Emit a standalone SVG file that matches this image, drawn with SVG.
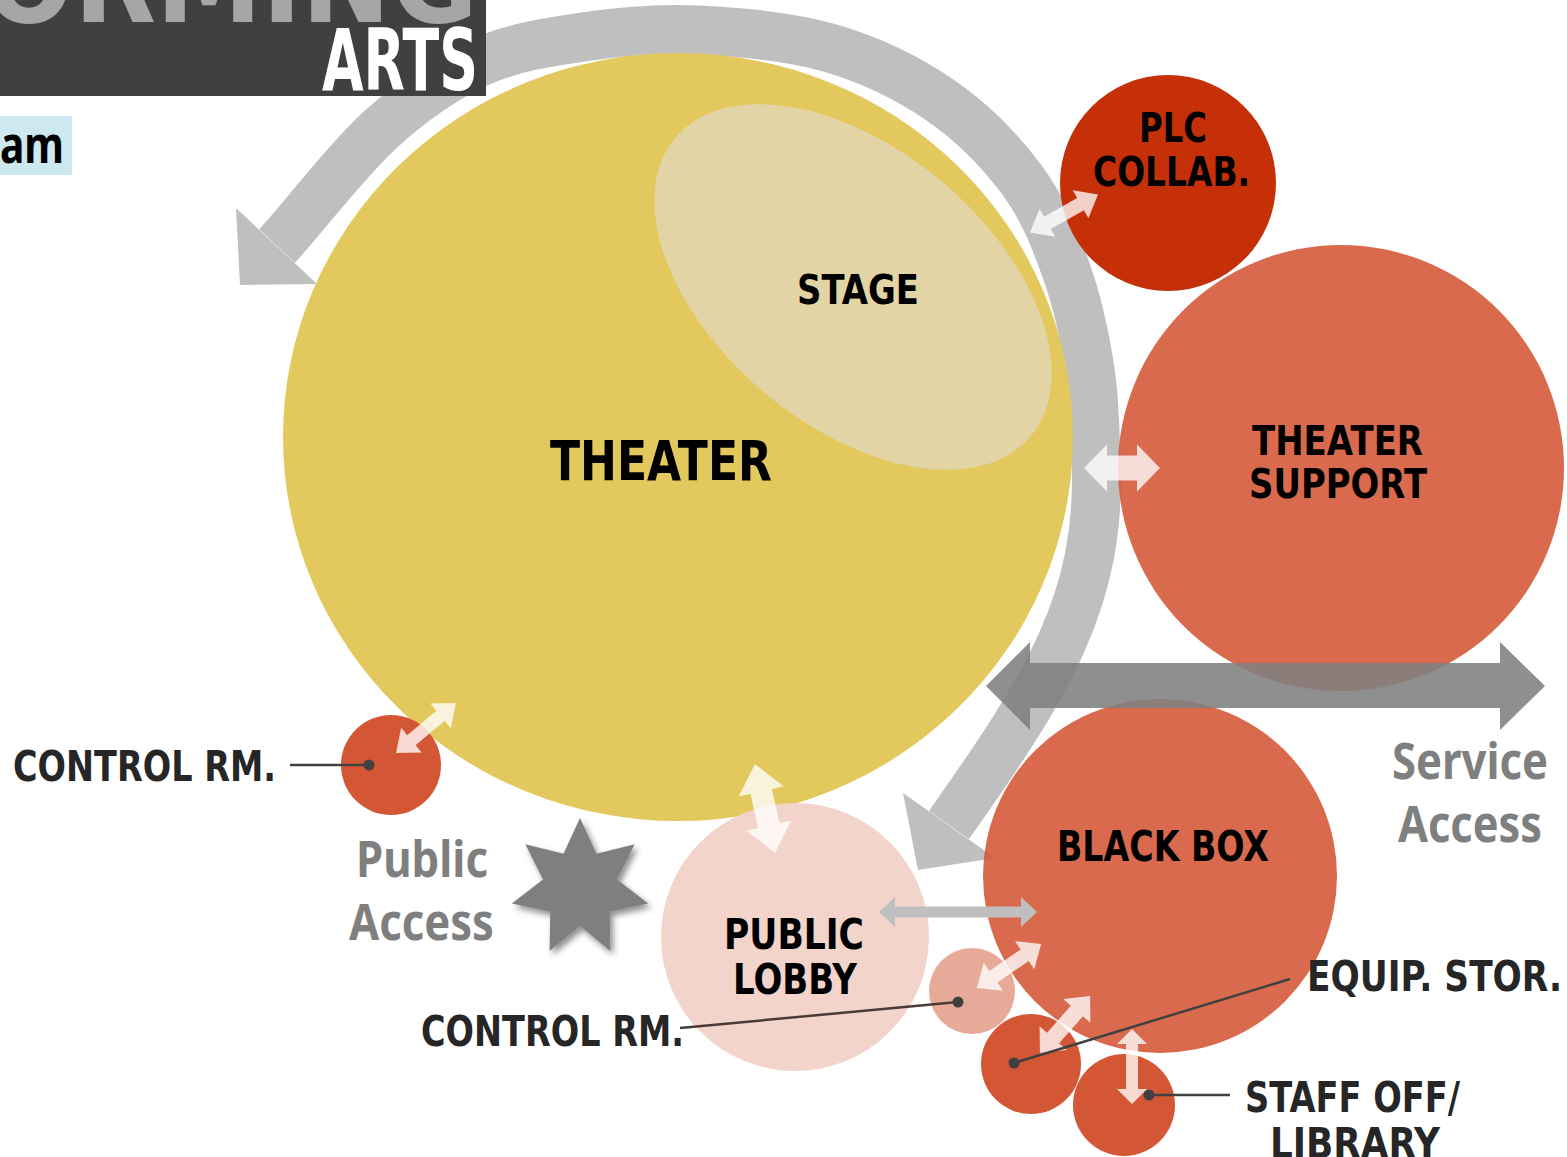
<svg xmlns="http://www.w3.org/2000/svg" width="1567" height="1157" viewBox="0 0 1567 1157">
<defs>
<style>
.lbl{font-family:"DejaVu Sans","Liberation Sans",sans-serif;font-weight:bold;fill:#000}
.cl{font-family:"DejaVu Sans","Liberation Sans",sans-serif;font-weight:bold;fill:#262626}
.ga{font-family:"Noto Sans","Open Sans",sans-serif;font-weight:bold;fill:#7f7f7f}
.wa{fill:#ffffff;fill-opacity:0.78}
.ln{stroke:#404040;stroke-width:2.5;fill:none}
.dot{fill:#404040}
.band{fill:none;stroke:#bfbfbf;stroke-width:49}
.orange{fill:#d4502e;fill-opacity:0.85}
.small{fill:#d45735}
</style>
<filter id="sh" x="-30%" y="-30%" width="160%" height="160%">
<feDropShadow dx="3" dy="4" stdDeviation="3" flood-color="#000" flood-opacity="0.45"/>
</filter>
</defs>

<g id="circulation-arc">
<path class="band" d="M 949 825 C 1047 686 1102 600 1096 460 C 1094.7 430 1095 401.7 1090 370 C 1085 336.7 1077.3 301.7 1066 270 C 1054.7 238.3 1043 208.3 1022 180 C 1001 151.7 972 122 940 100 C 908 78 870 59.7 830 48 C 790 36.3 740 32 700 30 C 660 28 626.7 30.7 590 36 C 553.3 41.3 515 46.3 480 62 C 445 77.7 413.8 99.3 380 130 C 346.2 160.7 300.3 221.2 277 246"/>
<polygon points="236,208 240,285 317,284" fill="#bfbfbf"/>
<polygon points="903,793 918,870 995,858" fill="#bfbfbf"/>
</g>

<g id="header">
<rect x="0" y="0" width="486" height="96" fill="#404040"/>
<text x="-322" y="22" font-family="DejaVu Sans, sans-serif" font-weight="bold" font-size="120" fill="#a6a6a6" textLength="800" lengthAdjust="spacingAndGlyphs">PERFORMING</text>
<text x="322" y="90" font-family="DejaVu Sans, sans-serif" font-weight="bold" font-size="85" fill="#ffffff" textLength="156" lengthAdjust="spacingAndGlyphs">ARTS</text>
</g>
<g id="subtitle">
<rect x="0" y="116" width="72" height="59" fill="#cde8ef"/>
<text x="0" y="163" font-family="Noto Sans, sans-serif" font-weight="bold" font-size="50" fill="#000" textLength="64" lengthAdjust="spacingAndGlyphs">am</text>
</g>

<g id="theater">
<ellipse cx="678" cy="437" rx="395" ry="384" fill="#e3c95d"/>
</g>
<g id="stage">
<ellipse cx="853" cy="287" rx="232" ry="138" transform="rotate(40 853 287)" fill="#e3d4a6"/>
</g>
<g id="plc-collab">
<circle cx="1168" cy="183" r="108" fill="#c63008"/>
</g>
<g id="theater-support">
<circle cx="1341" cy="468" r="223" class="orange"/>
</g>
<g id="black-box">
<circle cx="1160" cy="876" r="177" class="orange"/>
</g>
<g id="public-lobby">
<circle cx="795" cy="937" r="134" fill="#f3d4ca"/>
</g>
<g id="control-rm-1">
<circle cx="391" cy="765" r="50" class="small"/>
</g>
<g id="control-rm-2">
<circle cx="972" cy="991" r="43" fill="#e8aa98"/>
</g>
<g id="equip-stor">
<circle cx="1031" cy="1064" r="50" class="small"/>
</g>
<g id="staff-off">
<circle cx="1124" cy="1105" r="51" class="small"/>
</g>

<g id="service-access-arrow">
<polygon points="986,686 1030,642 1030,663 1500,663 1500,642 1545,686 1500,730 1500,708 1030,708 1030,730" fill="#7f7f7f" fill-opacity="0.88"/>
</g>

<g id="connectors">
<polygon class="wa" transform="translate(1064 213.5) rotate(-29.2)" points="-39,0 -19,-16 -19,-7 19,-7 19,-16 39,0 19,16 19,7 -19,7 -19,16"/>
<polygon class="wa" transform="translate(1122 468)" points="-38,0 -15,-23.5 -15,-12.5 15,-12.5 15,-23.5 38,0 15,23.5 15,12.5 -15,12.5 -15,23.5"/>
<polygon class="wa" transform="translate(426 728) rotate(-39.8)" points="-39,0 -19,-16 -19,-6.5 19,-6.5 19,-16 39,0 19,16 19,6.5 -19,6.5 -19,16"/>
<polygon class="wa" transform="translate(765 808.5) rotate(77.3)" points="-45.5,0 -17.5,-23 -17.5,-11 17.5,-11 17.5,-23 45.5,0 17.5,23 17.5,11 -17.5,11 -17.5,23"/>
<polygon fill="#bfbfbf" transform="translate(958 912)" points="-79,0 -63,-15 -63,-5.5 63,-5.5 63,-15 79,0 63,15 63,5.5 -63,5.5 -63,15"/>
<polygon class="wa" transform="translate(1009 966) rotate(-34.5)" points="-39,0 -19,-17 -19,-7 19,-7 19,-17 39,0 19,17 19,7 -19,7 -19,17"/>
<polygon class="wa" transform="translate(1065 1024.5) rotate(-48.7)" points="-38,0 -18,-18 -18,-8 18,-8 18,-18 38,0 18,18 18,8 -18,8 -18,18"/>
<polygon class="wa" transform="translate(1132 1066.5) rotate(90)" points="-37.5,0 -22.5,-15 -22.5,-6 22.5,-6 22.5,-15 37.5,0 22.5,15 22.5,6 -22.5,6 -22.5,15"/>
</g>

<g id="public-access-star">
<polygon filter="url(#sh)" fill="#7f7f7f" points="580,818 596.5,853.8 634.7,844.3 617,879.5 648.2,903.6 609.7,911.7 610.4,951.1 580,926 549.6,951.1 550.3,911.7 511.8,903.6 543,879.5 525.3,844.3 563.5,853.8"/>
</g>

<g id="callouts">
<line class="ln" x1="290" y1="765" x2="369" y2="765"/>
<circle class="dot" cx="369" cy="765" r="5.5"/>
<line x1="680" y1="1028" x2="958" y2="1002" stroke="#4a3a36" stroke-width="2.5"/>
<circle class="dot" cx="958" cy="1002" r="5.5"/>
<line class="ln" x1="1014" y1="1063" x2="1290" y2="979"/>
<circle class="dot" cx="1014" cy="1063" r="5.5"/>
<line class="ln" x1="1149" y1="1095" x2="1230" y2="1095"/>
<circle class="dot" cx="1149" cy="1095" r="5.5"/>
</g>

<g id="labels">
<text class="lbl" x="550" y="480" font-size="55" textLength="222" lengthAdjust="spacingAndGlyphs">THEATER</text>
<text class="lbl" x="797" y="304" font-size="40" textLength="122" lengthAdjust="spacingAndGlyphs">STAGE</text>
<text class="lbl" x="1139" y="142" font-size="41" textLength="68" lengthAdjust="spacingAndGlyphs">PLC</text>
<text class="lbl" x="1093" y="186" font-size="41" textLength="157" lengthAdjust="spacingAndGlyphs">COLLAB.</text>
<text class="lbl" x="1252" y="455" font-size="41" textLength="171" lengthAdjust="spacingAndGlyphs">THEATER</text>
<text class="lbl" x="1249" y="498" font-size="41" textLength="178" lengthAdjust="spacingAndGlyphs">SUPPORT</text>
<text class="lbl" x="1057" y="861" font-size="43" textLength="212" lengthAdjust="spacingAndGlyphs">BLACK BOX</text>
<text class="lbl" x="724" y="949" font-size="42" textLength="140" lengthAdjust="spacingAndGlyphs">PUBLIC</text>
<text class="lbl" x="733" y="994" font-size="42" textLength="124" lengthAdjust="spacingAndGlyphs">LOBBY</text>
<text class="cl" x="13" y="781" font-size="42" textLength="263" lengthAdjust="spacingAndGlyphs">CONTROL RM.</text>
<text class="cl" x="421" y="1046" font-size="42" textLength="263" lengthAdjust="spacingAndGlyphs">CONTROL RM.</text>
<text class="cl" x="1307" y="991" font-size="42" textLength="255" lengthAdjust="spacingAndGlyphs">EQUIP. STOR.</text>
<text class="cl" x="1245" y="1112" font-size="42" textLength="215" lengthAdjust="spacingAndGlyphs">STAFF OFF/</text>
<text class="cl" x="1270" y="1158" font-size="42" textLength="170" lengthAdjust="spacingAndGlyphs">LIBRARY</text>
<text class="ga" x="356" y="877" font-size="50" textLength="132" lengthAdjust="spacingAndGlyphs">Public</text>
<text class="ga" x="349" y="940" font-size="50" textLength="145" lengthAdjust="spacingAndGlyphs">Access</text>
<text class="ga" x="1392" y="779" font-size="50" textLength="156" lengthAdjust="spacingAndGlyphs">Service</text>
<text class="ga" x="1398" y="842" font-size="50" textLength="144" lengthAdjust="spacingAndGlyphs">Access</text>
</g>
</svg>
